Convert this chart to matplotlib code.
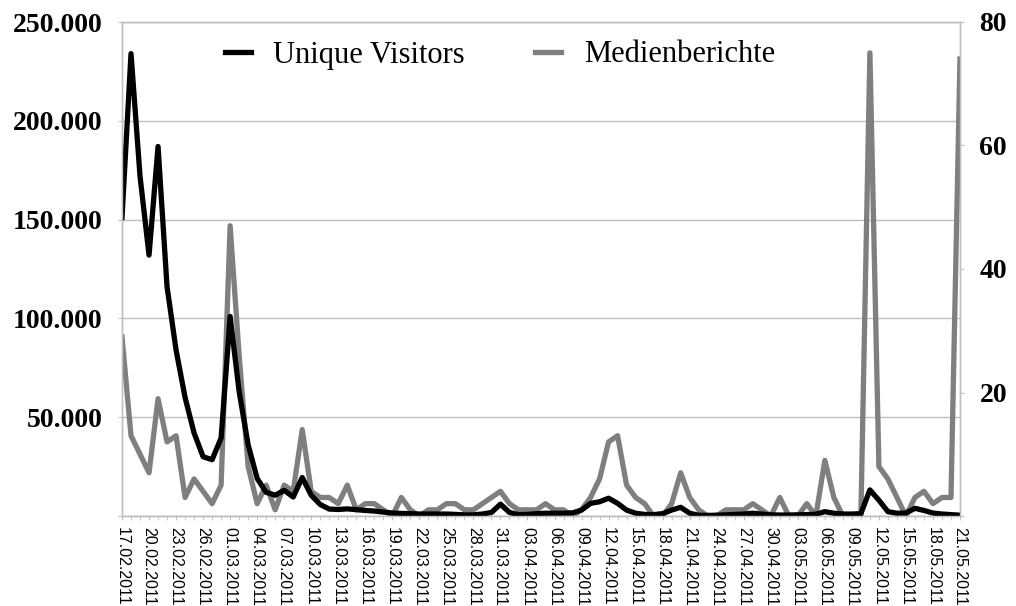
import numpy as np
import pandas as pd
import matplotlib
matplotlib.use("Agg")
import matplotlib.pyplot as plt
from matplotlib.ticker import FuncFormatter, MultipleLocator

# daily values 17.02.2011 - 21.05.2011
DATES = pd.date_range("2011-02-17", "2011-05-21", freq="D")

# unique visitors per day
VISITORS = [
    151000, 234000, 172000, 132000, 187000, 116000, 84000, 60000, 42000, 30000,
    28500, 39500, 101000, 63000, 36000, 19000, 12000, 10500, 13000, 9600,
    19500, 10500, 5800, 3500, 3300, 3600, 3200, 2800, 2500, 2000,
    1500, 1300, 1200, 1000, 1000, 1000, 1000, 800, 600, 600,
    1000, 1800, 6000, 1800, 700, 800, 1200, 1400, 1400, 1400,
    1600, 3000, 6400, 7200, 9000, 6400, 3000, 1400, 800, 700,
    1200, 3000, 4400, 1400, 400, 300, 400, 600, 800, 1000,
    1400, 1000, 600, 500, 500, 600, 700, 900, 2200, 1400,
    1000, 1000, 1200, 13200, 8000, 2200, 1400, 1500, 3900, 2800,
    1500, 1000, 700, 400,
]

# media reports per day (right axis)
MEDIA = [
    29, 13, 10, 7, 19, 12, 13, 3, 6, 4,
    2, 5, 47, 26, 8, 2, 5, 1, 5, 4,
    14, 4, 3, 3, 2, 5, 1, 2, 2, 1,
    0, 3, 1, 0, 1, 1, 2, 2, 1, 1,
    2, 3, 4, 2, 1, 1, 1, 2, 1, 1,
    0, 1, 3, 6, 12, 13, 5, 3, 2, 0,
    0, 2, 7, 3, 1, 0, 0, 1, 1, 1,
    2, 1, 0, 3, 0, 0, 2, 0, 9, 3,
    0, 0, 0, 75, 8, 6, 3, 0, 3, 4,
    2, 3, 3, 74,
]

LEFT_TICKS = [0, 50000, 100000, 150000, 200000, 250000]
RIGHT_TICKS = [0, 20, 40, 60, 80]

GRID = "#bfbfbf"
GREY = "#7f7f7f"

x = np.arange(len(DATES))
tick_pos = x[::3]
tick_labels = DATES[::3].strftime("%d.%m.%Y")

fig = plt.figure(figsize=(10.16, 6.06), dpi=100)
ax = fig.add_axes([122 / 1016, 1 - 516 / 606, (960 - 122) / 1016, (516 - 22) / 606])
ax2 = ax.twinx()

ax.set_xlim(0, len(DATES) - 1)
ax.set_ylim(0, 250000)
ax2.set_ylim(0, 80)

# grid on the lower axes, both lines on the upper one (black above grey)
ax.set_yticks(LEFT_TICKS)
ax.yaxis.grid(True, color=GRID, linewidth=1)
ax.set_axisbelow(True)

grey_line, = ax2.plot(x, MEDIA, color=GREY, linewidth=3.8, solid_joinstyle="round",
                      label="Medienberichte")
black_line, = ax2.plot(x, VISITORS, color="black", linewidth=3.8, solid_joinstyle="round",
                       transform=ax.transData, label="Unique Visitors")

thousands = FuncFormatter(lambda v, p: "" if v == 0 else f"{int(v):,}".replace(",", "."))
plain = FuncFormatter(lambda v, p: "" if v == 0 else f"{int(v)}")
ax.yaxis.set_major_formatter(thousands)
ax2.set_yticks(RIGHT_TICKS)
ax2.yaxis.set_major_formatter(plain)

ax.set_xticks(tick_pos)
ax.set_xticklabels(tick_labels, rotation=270, fontsize=11.5, family="Liberation Sans")
ax.xaxis.set_minor_locator(MultipleLocator(1))

for a in (ax, ax2):
    for s in a.spines.values():
        s.set_color(GRID)
        s.set_linewidth(1)

ax.tick_params(axis="y", direction="out", length=3, color=GRID, pad=11)
ax2.tick_params(axis="y", direction="out", length=3, color=GRID, pad=11)
ax.tick_params(axis="x", which="both", direction="out", length=3, color=GRID, pad=5)

for lab in ax.get_yticklabels() + ax2.get_yticklabels():
    lab.set_family("Liberation Serif")
    lab.set_fontweight("bold")
    lab.set_fontsize(20)

fig.legend([black_line, grey_line], ["Unique Visitors", "Medienberichte"],
           loc="center", bbox_to_anchor=(500 / 1016, 1 - 55 / 606), ncol=2, frameon=False,
           prop={"family": "Liberation Serif", "size": 22},
           handlelength=0.85, handletextpad=0.75, columnspacing=2.3)

fig.savefig("out.png", dpi=100)
